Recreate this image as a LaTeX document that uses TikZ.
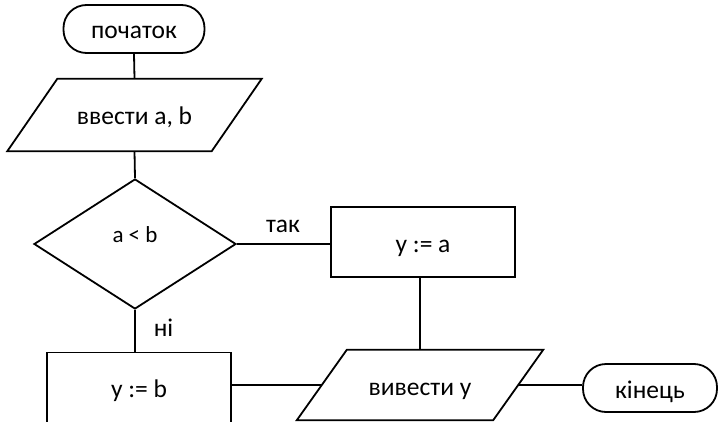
\documentclass[tikz,border=0pt]{standalone}
\usepackage{fontspec}
\setmainfont{Carlito}
\usetikzlibrary{shapes.geometric}

% parallelogram outline around an invisible box (slant split half left, half right)
\newcommand\ioframe[1]{%
  \draw[line] ([xshift=25pt]#1.north west) -- ([xshift=25pt]#1.north east)
    -- ([xshift=-25pt]#1.south east) -- ([xshift=-25pt]#1.south west) -- cycle;}

\tikzset{
  line/.style={line width=1.8pt, line join=miter},
  txt/.style={font=\fontsize{25.5}{30}\selectfont},
  boxtxt/.style={txt, text height=21pt, text depth=1pt},
  term/.style={boxtxt, draw, line width=1.8pt, rounded corners=23pt, inner sep=0pt},
  procbox/.style={boxtxt, draw, line width=1.8pt, minimum width=184pt, minimum height=70pt, inner sep=0pt},
  iobox/.style={boxtxt, inner sep=0pt},
  decision/.style={draw, line width=1.8pt, diamond, inner sep=0pt,
    font=\fontsize{23}{28}\selectfont, text height=9pt, text depth=12pt},
}

\begin{document}
\begin{tikzpicture}[x=1pt, y=-1pt]
\useasboundingbox (0,0) rectangle (719,422);
\clip (0,0) rectangle (719,422);
\fill[white] (0,0) rectangle (719,422);

\node[term, minimum width=141pt, minimum height=48pt] (start) at (134,29) {початок};
\node[iobox, minimum width=204pt, minimum height=72pt] (in) at (134.5,115) {ввести a, b};
\ioframe{in}
\node[decision, minimum width=202pt, minimum height=130pt] (dec) at (135,244) {a < b};
\node[procbox] (ya) at (423,242) {y := a};
\node[procbox] (yb) at (139,387.5) {y := b};
\node[iobox, minimum width=196pt, minimum height=70pt] (out) at (420,385) {вивести y};
\ioframe{out}
\node[term, minimum width=134pt, minimum height=48pt] (end) at (650,388) {кінець};

\node[txt, anchor=base] (yes) at (283,232) {так};
\node[txt, anchor=base] (no) at (163.5,336) {ні};

\draw[line] (start.south) -- (in.north);
\draw[line] (in.south) -- (dec.north);
\draw[line] (dec.east) -- (dec.east -| ya.west);
\draw[line] (dec.south) -- (dec.south |- yb.north);
\draw[line] (out.north) -- (out.north |- ya.south);
\draw[line] (out.west -| yb.east) -- (out.west);
\draw[line] (out.east) -- (out.east -| end.west);
\end{tikzpicture}
\end{document}
